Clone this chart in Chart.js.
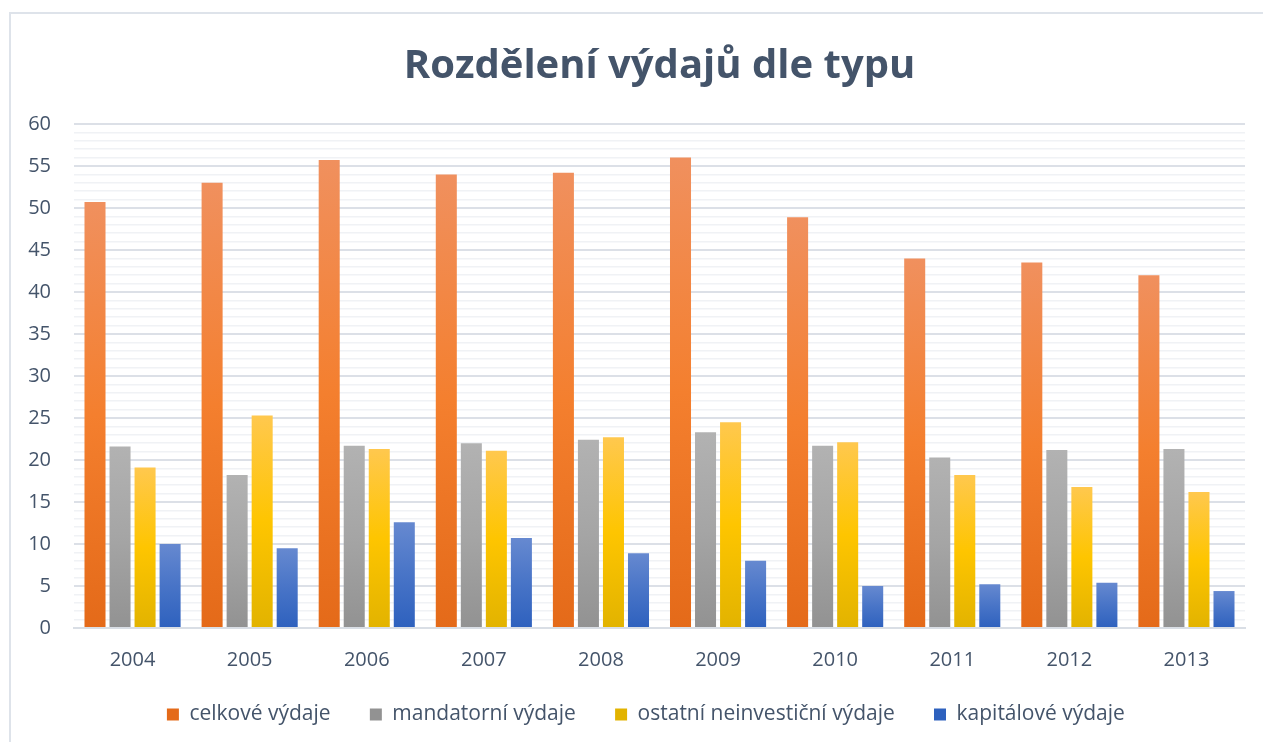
<!DOCTYPE html>
<html>
<head>
<meta charset="utf-8">
<script src="https://cdn.jsdelivr.net/npm/chart.js@4"></script>
<style>
  body { margin: 0; overflow: hidden; background: #fff; }
  #wrap { position: absolute; left: 0; top: 0; width: 1263px; height: 742px; }
  #frame { position: absolute; left: 9px; top: 12px; width: 1300px; height: 800px;
           border-left: 2px solid #DEE3EA; border-top: 2px solid #DEE3EA; pointer-events: none; }
</style>
</head>
<body>
<div id="wrap"><canvas id="chart"></canvas></div>
<div id="frame"></div>
<script>
// data
const years = ['2004', '2005', '2006', '2007', '2008', '2009', '2010', '2011', '2012', '2013'];
const celkove = [50.7, 53.0, 55.7, 54.0, 54.2, 56.0, 48.9, 44.0, 43.5, 42.0];
const mandatorni = [21.6, 18.2, 21.7, 22.0, 22.4, 23.3, 21.7, 20.3, 21.2, 21.3];
const ostatni = [19.1, 25.3, 21.3, 21.1, 22.7, 24.5, 22.1, 18.2, 16.8, 16.2];
const kapitalove = [10.0, 9.5, 12.6, 10.7, 8.9, 8.0, 5.0, 5.2, 5.4, 4.4];

const seriesNames = ['celkové výdaje', 'mandatorní výdaje', 'ostatní neinvestiční výdaje', 'kapitálové výdaje'];

// top, middle, bottom colours of each gradient fill
const orangeStops = ['#F0905E', '#F47F2E', '#E46A19'];
const grayStops = ['#B2B2B2', '#A5A5A5', '#929292'];
const yellowStops = ['#FFC84E', '#FEC500', '#E2B300'];
const blueStops = ['#6689D0', '#4874C7', '#2E61BE'];

const textColor = '#44546A';
const font = "'Open Sans', 'Noto Sans', sans-serif";

// per-bar vertical gradient
function barFill(stops) {
    return function(ctx) {
        const chart = ctx.chart;
        const y = chart.scales.y;
        if (ctx.type !== 'data' || !y || ctx.raw === undefined) return stops[1];
        const top = y.getPixelForValue(ctx.raw);
        const bottom = y.getPixelForValue(0);
        if (!isFinite(top) || !isFinite(bottom) || top === bottom) return stops[1];
        const g = chart.ctx.createLinearGradient(0, top, 0, bottom);
        g.addColorStop(0, stops[0]);
        g.addColorStop(0.5, stops[1]);
        g.addColorStop(1, stops[2]);
        return g;
    };
}

function makeDataset(label, data, stops) {
    return {
        label: label,
        data: data,
        backgroundColor: barFill(stops),
        borderWidth: 0,
        categoryPercentage: 0.855,
        barPercentage: 0.84
    };
}

Chart.defaults.font.family = font;
Chart.defaults.color = textColor;

const gap = '\u00A0\u00A0\u00A0\u00A0\u00A0';

new Chart(document.getElementById('chart'), {
    type: 'bar',
    data: {
        labels: years,
        datasets: [
            makeDataset(seriesNames[0], celkove, orangeStops),
            makeDataset(seriesNames[1], mandatorni, grayStops),
            makeDataset(seriesNames[2], ostatni, yellowStops),
            makeDataset(seriesNames[3], kapitalove, blueStops)
        ]
    },
    options: {
        responsive: true,
        maintainAspectRatio: false,
        animation: false,
        layout: { padding: { left: 0, right: 18, top: 0, bottom: 7 } },
        plugins: {
            title: {
                display: true,
                fullSize: false,
                text: 'Rozdělení výdajů dle typu',
                color: textColor,
                font: { size: 40, weight: 'bold' },
                padding: { top: 43, bottom: 33 }
            },
            legend: {
                position: 'bottom',
                fullSize: false,
                labels: {
                    boxWidth: 12,
                    boxHeight: 12,
                    padding: 12,
                    color: textColor,
                    font: { size: 21 },
                    // wider gaps between items, like the reference
                    generateLabels: function(chart) {
                        const items = Chart.defaults.plugins.legend.labels.generateLabels(chart);
                        items.forEach(it => { it.text = it.text + gap; });
                        return items;
                    }
                }
            },
            tooltip: { enabled: false }
        },
        scales: {
            x: {
                grid: { display: false, drawTicks: false },
                border: { display: true, color: '#D9DEE5', width: 2 },
                ticks: { color: textColor, font: { size: 20 }, padding: 20 }
            },
            y: {
                min: 0,
                max: 60,
                afterFit: function(scale) { scale.width = 74; },
                border: { display: false },
                grid: {
                    drawTicks: false,
                    color: c => (c.tick && c.tick.value % 5 === 0) ? '#DCE0E7' : '#F0F2F5',
                    lineWidth: c => (c.tick && c.tick.value % 5 === 0) ? 2 : 1.5
                },
                ticks: {
                    stepSize: 1,
                    autoSkip: false,
                    padding: 23,
                    color: textColor,
                    font: { size: 20 },
                    callback: v => (v % 5 === 0 ? v : '')
                }
            }
        }
    }
});
</script>
</body>
</html>
